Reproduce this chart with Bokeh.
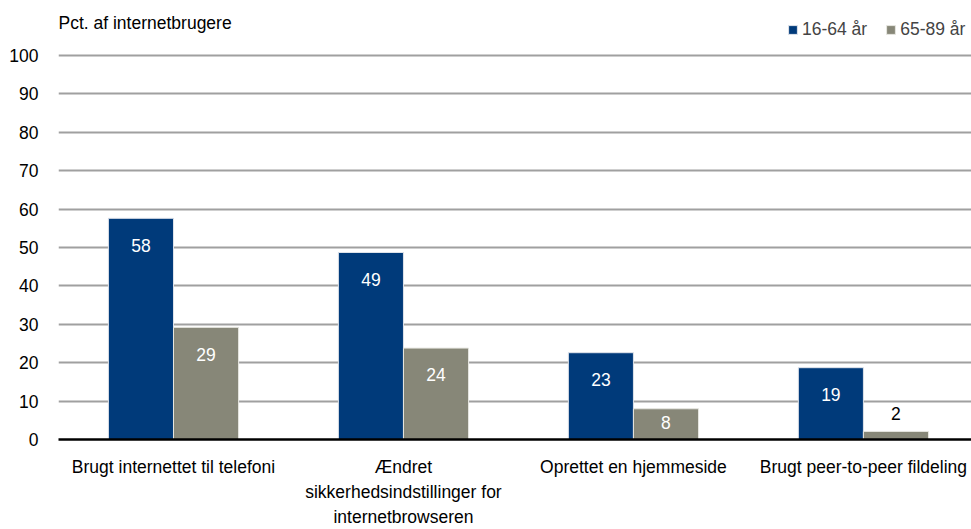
from bokeh.plotting import figure
from bokeh.models import ColumnDataSource, Range1d, FixedTicker, Legend, LegendItem, Label
from bokeh.embed import file_html
from bokeh.resources import INLINE
from bokeh.core.properties import value

categories = [
    "Brugt internettet til telefoni",
    "Ændret\nsikkerhedsindstillinger for\ninternetbrowseren",
    "Oprettet en hjemmeside",
    "Brugt peer-to-peer fildeling",
]
series_names = ["16-64 år", "65-89 år"]
young = [57.6, 48.7, 22.6, 18.7]
old = [29.2, 23.8, 8.0, 2.1]
y_ticks = [0, 10, 20, 30, 40, 50, 60, 70, 80, 90, 100]
y_title = "Pct. af internetbrugere"

FONT = "Liberation Sans"
FS = "17.5px"
BLUE = "#003A7A"
GRAY = "#878778"
BAR_W = 0.283

p = figure(width=971, height=529, output_backend="svg", toolbar_location=None,
           x_range=Range1d(-0.5, 3.47), y_range=Range1d(0, 114.32),
           min_border_left=58, min_border_right=0, min_border_top=0, min_border_bottom=90)
p.outline_line_color = None
p.background_fill_color = "white"

idx = list(range(len(categories)))
src_y = ColumnDataSource(dict(x=[i - BAR_W / 2 for i in idx], top=young))
src_o = ColumnDataSource(dict(x=[i + BAR_W / 2 for i in idx], top=old))
r1 = p.vbar(x="x", top="top", width=BAR_W, source=src_y, fill_color=BLUE, line_color="#dfe3ea", line_width=1)
r2 = p.vbar(x="x", top="top", width=BAR_W, source=src_o, fill_color=GRAY, line_color="#e6e6e0", line_width=1)

# data labels
lx, ly, lt, lc = [], [], [], []
for xs, vals in ((src_y.data["x"], young), (src_o.data["x"], old)):
    for x, v in zip(xs, vals):
        lx.append(x)
        lt.append(str(int(round(v))))
        if v >= 15:
            ly.append(v - 7.0); lc.append("white")
        elif v >= 5:
            ly.append(v / 2 + 0.3); lc.append("white")
        else:
            ly.append(v + 4.8); lc.append("black")
p.text(x=lx, y=ly, text=lt, text_color=lc, text_align="center", text_baseline="middle",
       text_font=value(FONT), text_font_size=FS)

# axes
p.yaxis.ticker = FixedTicker(ticks=y_ticks)
p.yaxis.axis_line_color = None
p.yaxis.major_tick_line_color = None
p.yaxis.minor_tick_line_color = None
p.yaxis.major_label_standoff = 14
p.yaxis.major_label_text_font = FONT
p.yaxis.major_label_text_font_size = FS
p.yaxis.major_label_text_color = "black"

p.xaxis.ticker = FixedTicker(ticks=idx)
p.xaxis.major_label_overrides = {i: c for i, c in zip(idx, categories)}
p.xaxis.axis_line_color = "black"
p.xaxis.axis_line_width = 2.5
p.xaxis.major_tick_line_color = None
p.xaxis.minor_tick_line_color = None
p.xaxis.major_label_standoff = 11
p.xaxis.major_label_text_font = FONT
p.xaxis.major_label_text_font_size = FS
p.xaxis.major_label_text_color = "black"
p.xaxis.major_label_text_line_height = 1.25

p.xgrid.grid_line_color = None
p.ygrid.ticker = FixedTicker(ticks=y_ticks[1:])
p.ygrid.grid_line_color = "#a0a0a0"
p.ygrid.grid_line_width = 2

# title (inside the frame, above the 100 line)
p.add_layout(Label(x=0, y=417, x_units="screen", y_units="screen", text=y_title,
                   text_font=FONT, text_font_size=FS, text_color="black",
                   text_baseline="middle", text_align="left"))

legend = Legend(items=[LegendItem(label=series_names[0], renderers=[r1]),
                       LegendItem(label=series_names[1], renderers=[r2])],
                orientation="horizontal", location=(729, 399),
                label_text_font=FONT, label_text_font_size=FS,
                glyph_width=11, glyph_height=11, label_standoff=4, spacing=18,
                padding=0, margin=0, border_line_color=None, background_fill_alpha=0)
p.add_layout(legend)

open("out.html", "w").write(file_html(p, INLINE))
